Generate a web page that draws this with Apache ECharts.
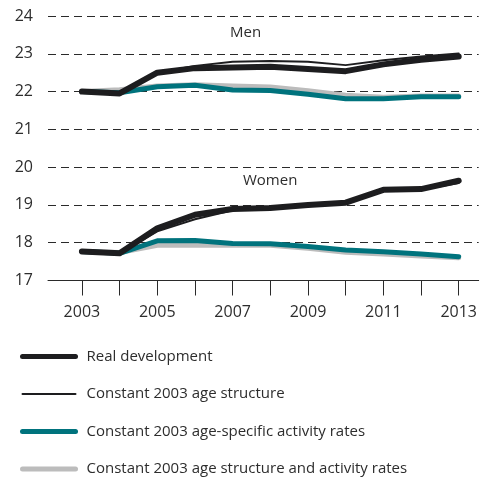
<!DOCTYPE html>
<html>
<head>
<meta charset="utf-8">
<script src="https://cdn.jsdelivr.net/npm/echarts@6/dist/echarts.min.js"></script>
<style>
  html, body { margin: 0; padding: 0; background: #fff; }
  #chart { width: 480px; height: 479px; }
</style>
</head>
<body>
<div id="chart"></div>
<script>
// years on the x axis
const years = [2003, 2004, 2005, 2006, 2007, 2008, 2009, 2010, 2011, 2012, 2013];
const yearLabels = [2003, 2005, 2007, 2009, 2011, 2013];

const seriesNames = [
  'Real development',
  'Constant 2003 age structure',
  'Constant 2003 age-specific activity rates',
  'Constant 2003 age structure and activity rates',
];

// men
const menReal = [22.0, 21.95, 22.5, 22.62, 22.64, 22.66, 22.6, 22.54, 22.72, 22.84, 22.93];
const menAgeStruct = [22.0, 21.97, 22.5, 22.68, 22.79, 22.81, 22.79, 22.7, 22.83, 22.93, 23.01];
const menActRates = [22.0, 21.97, 22.13, 22.17, 22.04, 22.03, 21.93, 21.81, 21.81, 21.86, 21.86];
const menBoth = [22.0, 22.05, 22.15, 22.18, 22.15, 22.12, 22.02, 21.9, 21.85, 21.88, 21.88];

// women
const womenReal = [17.77, 17.72, 18.38, 18.74, 18.89, 18.92, 19.0, 19.06, 19.4, 19.42, 19.64];
const womenAgeStruct = [17.77, 17.72, 18.3, 18.62, 18.86, 18.93, 19.0, 19.06, 19.37, 19.4, 19.58];
const womenActRates = [17.77, 17.72, 18.05, 18.06, 17.98, 17.97, 17.9, 17.81, 17.76, 17.7, 17.63];
const womenBoth = [17.77, 17.74, 17.93, 17.93, 17.93, 17.93, 17.85, 17.75, 17.7, 17.65, 17.6];

const colors = ['#1d1d1f', '#1d1d1f', '#00737d', '#bcbcbc'];
const widths = [6, 2, 5, 5];
const legendWidths = [5, 2, 5, 5];

const pairs = (arr) => years.map((y, i) => [y, arr[i]]);

const mkSeries = (idx, data, z) => ({
  name: seriesNames[idx],
  type: 'line',
  data: pairs(data),
  symbol: 'none',
  z: z,
  lineStyle: { color: colors[idx], width: widths[idx], cap: 'round', join: 'round' },
  itemStyle: { color: colors[idx] },
});

const chart = echarts.init(document.getElementById('chart'));
chart.setOption({
  animation: false,
  textStyle: { fontFamily: '"Open Sans", sans-serif' },
  grid: { left: 48, right: 0, top: 16, bottom: 198.5, containLabel: false },
  xAxis: {
    type: 'value',
    min: 2002.1,
    max: 2013.53,
    axisLine: { show: true, lineStyle: { color: '#2a2a2a', width: 1 } },
    axisTick: { show: true, length: 15, customValues: years, lineStyle: { color: '#2a2a2a', width: 1 } },
    axisLabel: { customValues: yearLabels, margin: 24, fontSize: 16, color: '#2d2d2d', formatter: (v) => String(v) },
    splitLine: { show: false },
  },
  yAxis: {
    type: 'value',
    min: 17,
    max: 24,
    interval: 1,
    axisLine: { show: false },
    axisTick: { show: false },
    axisLabel: { margin: 15, fontSize: 16, color: '#2d2d2d' },
    splitLine: { show: true, lineStyle: { color: '#2a2a2a', width: 1, type: [8, 5] } },
  },
  legend: {
    orient: 'vertical',
    left: 15,
    top: 344,
    height: 140,
    itemWidth: 53,
    itemHeight: 14,
    itemGap: 22.5,
    textStyle: { fontSize: 15, lineHeight: 14, color: '#2d2d2d', padding: [0, 0, 0, 6] },
    data: seriesNames.map((n, i) => ({
      name: n,
      itemStyle: { opacity: 0 },
      lineStyle: { width: legendWidths[i], color: colors[i], cap: 'round' },
    })),
  },
  graphic: [
    { type: 'text', left: 230, top: 25, style: { text: 'Men', fontSize: 15, fill: '#2d2d2d', fontFamily: '"Open Sans", sans-serif' } },
    { type: 'text', left: 243, top: 173, style: { text: 'Women', fontSize: 15, fill: '#2d2d2d', fontFamily: '"Open Sans", sans-serif' } },
  ],
  series: [
    mkSeries(3, menBoth, 2),
    mkSeries(2, menActRates, 3),
    mkSeries(0, menReal, 4),
    mkSeries(1, menAgeStruct, 5),
    mkSeries(3, womenBoth, 2),
    mkSeries(2, womenActRates, 3),
    mkSeries(0, womenReal, 4),
    mkSeries(1, womenAgeStruct, 5),
  ],
});
</script>
</body>
</html>
